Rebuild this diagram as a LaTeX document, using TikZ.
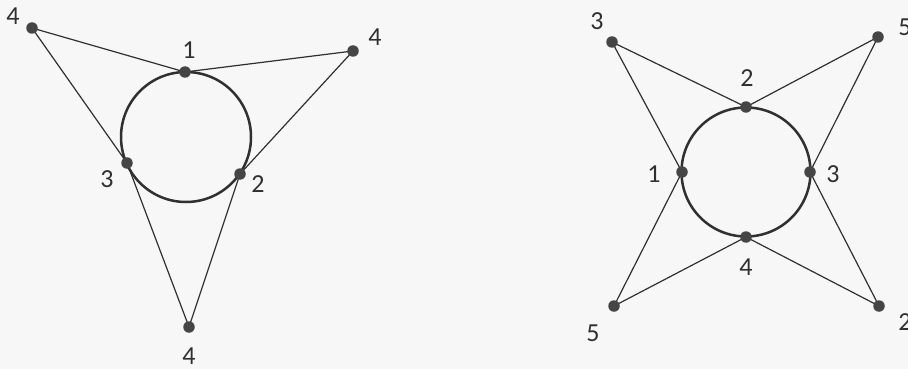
\documentclass[tikz,border=0pt]{standalone}
\usepackage{fontspec}
\setmainfont{Carlito}
\definecolor{ink}{HTML}{303030}
\definecolor{dotc}{HTML}{454545}
\definecolor{paper}{HTML}{F7F7F7}
\tikzset{
  edge/.style={draw=ink, line width=1.2pt},
  ring/.style={draw=ink, line width=2.5pt},
  dot/.style={circle, fill=dotc, inner sep=0pt, minimum size=11.5pt},
  lbl/.style={text=ink, font=\fontsize{26}{26}\selectfont, inner sep=0pt},
}
\begin{document}
\begin{tikzpicture}[x=1pt, y=-1pt]
  \fill[paper] (0,0) rectangle (908,369);
  \useasboundingbox (0,0) rectangle (908,369);

  % ---- left figure: circle with three points, three outer vertices ----
  \coordinate (Lc) at (186,137);
  \coordinate (L1) at (185,72);
  \coordinate (L2) at (240,174);
  \coordinate (L3) at (127,163);
  \coordinate (LA) at (32,28);
  \coordinate (LB) at (353,51);
  \coordinate (LC) at (189,327);

  \draw[ring] (Lc) circle[radius=65pt];
  \draw[edge] (LA) -- (L1) -- (LB) -- (L2) -- (LC) -- (L3) -- cycle;

  \foreach \p in {L1,L2,L3,LA,LB,LC} \node[dot] (d\p) at (\p) {};

  \node[lbl] (tL1) at (189,50) {1};
  \node[lbl] (tL2) at (258,184) {2};
  \node[lbl] (tL3) at (107,179) {3};
  \node[lbl] (tLA) at (13,16) {4};
  \node[lbl] (tLB) at (375,37) {4};
  \node[lbl] (tLC) at (189,356) {4};

  % ---- right figure: circle with four points, four outer vertices ----
  \coordinate (Rc) at (746,172);
  \coordinate (R1) at (682,172);
  \coordinate (R2) at (746,107);
  \coordinate (R3) at (810,172);
  \coordinate (R4) at (746,237);
  \coordinate (RA) at (612,42);
  \coordinate (RB) at (878,37);
  \coordinate (RC) at (614,306);
  \coordinate (RD) at (879,306);

  \draw[ring] (Rc) circle[radius=64.5pt];
  \draw[edge] (RA) -- (R2) -- (RB) -- (R3) -- (RD) -- (R4) -- (RC) -- (R1) -- cycle;

  \foreach \p in {R1,R2,R3,R4,RA,RB,RC,RD} \node[dot] (d\p) at (\p) {};

  \node[lbl] (tR1) at (654,174) {1};
  \node[lbl] (tR2) at (747,78) {2};
  \node[lbl] (tR3) at (833,174) {3};
  \node[lbl] (tR4) at (746,267) {4};
  \node[lbl] (tRA) at (597,21) {3};
  \node[lbl] (tRB) at (905,27) {5};
  \node[lbl] (tRC) at (593,333) {5};
  \node[lbl] (tRD) at (905,322) {2};
\end{tikzpicture}
\end{document}
